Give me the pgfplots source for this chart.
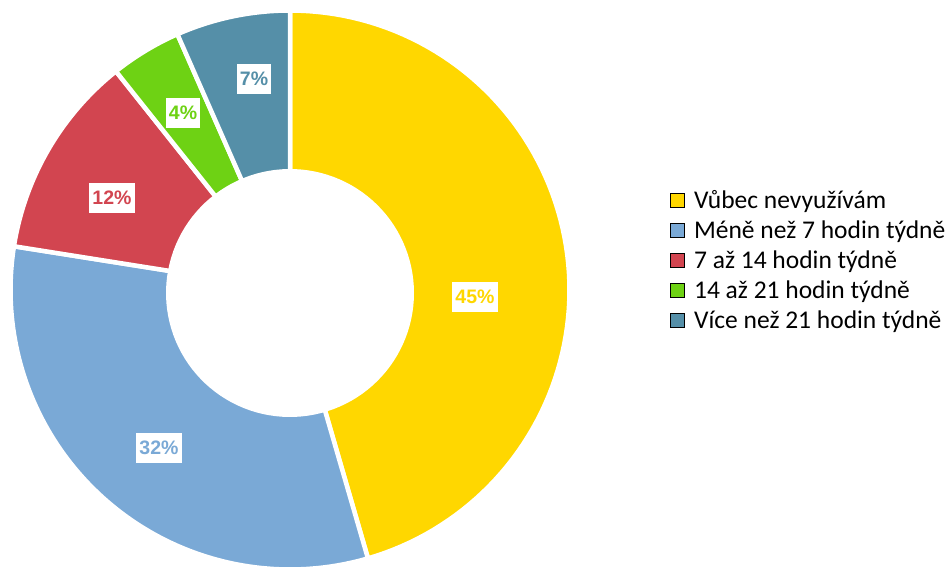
\documentclass[border=0pt]{standalone}
\usepackage{pgfplots}
\pgfplotsset{compat=1.18}
\usepackage{pgfplotstable}
\usepackage{fontspec}
\setmainfont{Carlito}
\newfontfamily\labelfont{Liberation Sans}
\definecolor{cyellow}{RGB}{255,215,0}
\definecolor{cblue}{RGB}{122,169,214}
\definecolor{cred}{RGB}{210,69,80}
\definecolor{cgreen}{RGB}{110,210,20}
\definecolor{cteal}{RGB}{85,143,168}
\tikzset{labelbox/.style={fill=white, inner xsep=3pt, inner ysep=0pt, minimum height=30pt,
    font=\labelfont\bfseries\fontsize{19.5}{23}\selectfont}}
\pgfplotstableread{
idx value
1 45.5
2 32.0
3 11.8
4 4.1
5 6.6
}\data
\newcommand\slice[3]{%
\addplot[fill=#3, draw=white, line width=4.5pt, line join=round, domain=#2:#1, samples=90, variable=\t, forget plot]
 ({290+279.5*cos(\t)},{274+279.5*sin(\t)}) -- (axis cs:290,274) -- cycle;}
\begin{document}
\begin{tikzpicture}
\pgfplotstablegetelem{0}{value}\of\data \let\vA\pgfplotsretval
\pgfplotstablegetelem{1}{value}\of\data \let\vB\pgfplotsretval
\pgfplotstablegetelem{2}{value}\of\data \let\vC\pgfplotsretval
\pgfplotstablegetelem{3}{value}\of\data \let\vD\pgfplotsretval
\pgfplotstablegetelem{4}{value}\of\data \let\vE\pgfplotsretval
\pgfmathsetmacro\aA{90}
\pgfmathsetmacro\aB{\aA-3.6*\vA}
\pgfmathsetmacro\aC{\aB-3.6*\vB}
\pgfmathsetmacro\aD{\aC-3.6*\vC}
\pgfmathsetmacro\aE{\aD-3.6*\vD}
\pgfmathsetmacro\aF{\aE-3.6*\vE}
\begin{axis}[
  scale only axis, width=951pt, height=564pt,
  xmin=0, xmax=951, ymin=0, ymax=564,
  hide axis, clip=false,
  legend style={draw=none, fill=none, at={(axis cs:670,302)}, anchor=west,
    font=\fontsize{25.5}{30}\selectfont, row sep=0pt, inner sep=0pt,
    nodes={inner sep=2.5pt, text height=19pt, text depth=6pt},
    /tikz/every odd column/.append style={column sep=7pt}},
  legend cell align=left,
  legend image code/.code={\fill[#1] (0pt,-5pt) rectangle (14pt,9pt);},
]
\path (axis cs:0,0) rectangle (axis cs:951,564);
\slice{\aA}{\aB}{cyellow}
\slice{\aB}{\aC}{cblue}
\slice{\aC}{\aD}{cred}
\slice{\aD}{\aE}{cgreen}
\slice{\aE}{\aF}{cteal}
\addplot[fill=white, draw=none, domain=0:360, samples=120, variable=\t, forget plot]
 ({290+124*cos(\t)},{271+124*sin(\t)}) -- cycle;
\addlegendimage{fill=cyellow}
\addlegendentry{Vůbec nevyužívám}
\addlegendimage{fill=cblue}
\addlegendentry{Méně než 7 hodin týdně}
\addlegendimage{fill=cred}
\addlegendentry{7 až 14 hodin týdně}
\addlegendimage{fill=cgreen}
\addlegendentry{14 až 21 hodin týdně}
\addlegendimage{fill=cteal}
\addlegendentry{Více než 21 hodin týdně}
\node[labelbox, text=cyellow] at (axis cs:475,267) {45\%};
\node[labelbox, text=cblue] at (axis cs:159,116) {32\%};
\node[labelbox, text=cred] at (axis cs:112,366) {12\%};
\node[labelbox, text=cgreen] at (axis cs:183,451) {4\%};
\node[labelbox, text=cteal] at (axis cs:254,485) {7\%};
\end{axis}
\end{tikzpicture}
\end{document}
